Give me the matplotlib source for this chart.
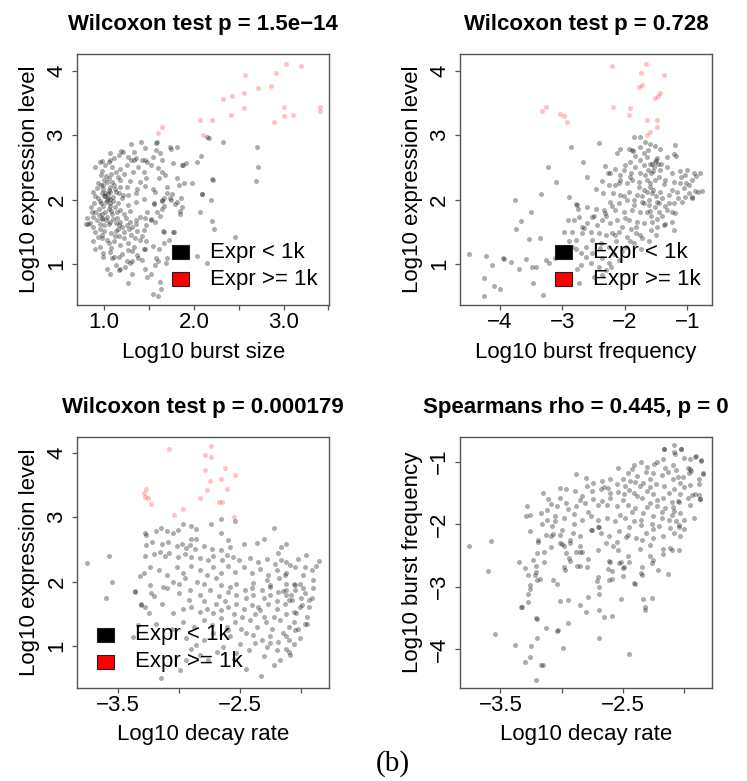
import numpy as np
import matplotlib
matplotlib.use('Agg')
import matplotlib.pyplot as plt
from matplotlib.patches import Rectangle

plt.rcParams['font.family'] = ['Liberation Sans', 'DejaVu Sans']

# log10 burst size vs log10 expression, genes with expression < 1k
size_expr_low = [
    (1.59, 2.90), (1.58, 2.88), (1.41, 2.89), (1.30, 2.86), (1.73, 2.82), (1.74, 2.78), (1.81, 2.81), (2.15, 2.97), (2.17, 2.96), (2.33, 2.89),
    (2.70, 2.82), (1.46, 2.80), (1.58, 2.77), (1.19, 2.76), (1.21, 2.74), (1.33, 2.74), (1.06, 2.72), (1.62, 2.73),
    (1.54, 2.66), (1.46, 2.61), (1.36, 2.65), (1.26, 2.66), (1.11, 2.64), (1.07, 2.62), (1.05, 2.59), (0.95, 2.58), (0.97, 2.60), (1.16, 2.69),
    (1.30, 2.62), (1.33, 2.61), (1.42, 2.62), (1.48, 2.58), (1.64, 2.62), (1.77, 2.57), (1.87, 2.54), (1.88, 2.53), (1.91, 2.57), (2.08, 2.68),
    (2.04, 2.59), (2.71, 2.51), (1.60, 2.49), (1.52, 2.54), (1.38, 2.50), (1.25, 2.54), (1.18, 2.48), (1.09, 2.50), (1.01, 2.53), (0.90, 2.50),
    (1.65, 2.43), (1.68, 2.38), (1.81, 2.34), (1.61, 2.33), (1.13, 2.43), (1.22, 2.39), (1.32, 2.43), (1.44, 2.43), (1.47, 2.34), (1.40, 2.28),
    (1.29, 2.29), (1.18, 2.30), (1.05, 2.33), (0.96, 2.38), (0.93, 2.25), (0.99, 2.23), (1.11, 2.23), (1.25, 2.20), (1.37, 2.17), (1.46, 2.21),
    (1.54, 2.17), (1.70, 2.20), (1.83, 2.22), (1.89, 2.26), (1.98, 2.26), (2.20, 2.32), (2.21, 2.30), (2.69, 2.29), (1.02, 2.36), (1.08, 2.40),
    (0.98, 2.44), (1.15, 2.35), (1.03, 2.27), (1.07, 2.20),
    (1.57, 2.12), (1.70, 2.10), (2.09, 2.08), (0.88, 2.12), (0.90, 2.05), (0.98, 2.10), (1.07, 2.12), (1.16, 2.10), (1.27, 2.07), (1.36, 2.10),
    (1.44, 2.01), (1.56, 1.93), (1.56, 1.94), (1.64, 1.98), (1.73, 2.02), (1.81, 1.96), (1.67, 1.90), (1.02, 1.97), (1.07, 2.01), (1.15, 1.94),
    (1.26, 1.92), (1.35, 1.96), (1.76, 2.08), (1.74, 1.99), (1.79, 1.93), (1.67, 2.02), (1.64, 1.99), (2.19, 1.99), (2.09, 2.09), (1.86, 2.03),
    (1.87, 1.89), (1.00, 2.05), (1.04, 2.08), (1.10, 2.04), (0.95, 1.98), (1.05, 2.15), (1.12, 2.16), (0.92, 2.18), (1.20, 2.02), (1.03, 2.00),
    (1.06, 1.95), (1.01, 2.11),
    (0.85, 1.89), (0.94, 1.86), (1.05, 1.85), (1.18, 1.84), (1.29, 1.82), (1.48, 1.81), (1.59, 1.81), (1.85, 1.83), (1.85, 1.77), (2.07, 1.80),
    (1.65, 1.85), (1.62, 1.75), (0.84, 1.63), (0.81, 1.71), (0.87, 1.73), (0.92, 1.68), (0.98, 1.71), (1.03, 1.73), (1.07, 1.66), (1.13, 1.63),
    (1.18, 1.66), (1.24, 1.71), (1.29, 1.66), (1.35, 1.68), (1.40, 1.73), (1.46, 1.71), (1.52, 1.68), (1.57, 1.66), (1.52, 1.70), (2.20, 1.67),
    (0.97, 1.78), (1.01, 1.80), (1.09, 1.77), (1.14, 1.80), (0.90, 1.80), (1.22, 1.77), (0.95, 1.62), (1.00, 1.60), (1.10, 1.70), (1.05, 1.62),
    (1.44, 1.53), (1.47, 1.60), (1.67, 1.50), (1.78, 1.50), (1.72, 1.37), (0.88, 1.35), (0.97, 1.40), (1.05, 1.32), (1.11, 1.35), (1.18, 1.29),
    (1.26, 1.32), (1.33, 1.27), (1.44, 1.24), (1.54, 1.28), (1.61, 1.24), (2.22, 1.54), (1.66, 1.52), (1.67, 1.33), (1.77, 1.49), (0.90, 1.50),
    (0.95, 1.55), (1.00, 1.52), (1.08, 1.48), (1.15, 1.55), (1.22, 1.50), (1.30, 1.45), (1.37, 1.52), (0.98, 1.45), (1.12, 1.44), (2.46, 1.42),
    (0.90, 1.24), (0.99, 1.17), (1.06, 1.19), (1.11, 1.11), (1.20, 1.16), (0.99, 1.11), (1.09, 1.10), (1.16, 1.11), (1.25, 1.04), (1.31, 1.04),
    (1.38, 1.09), (1.42, 1.06), (1.45, 1.24), (1.57, 0.98), (1.60, 1.05), (1.58, 1.10), (1.70, 1.10), (1.69, 1.01), (2.15, 1.01), (2.04, 1.13),
    (1.03, 0.93), (1.13, 0.98), (1.18, 0.93), (1.29, 1.01),
    (1.07, 0.84), (1.17, 0.90), (1.23, 0.96), (1.27, 0.71), (1.31, 0.85), (1.46, 0.93), (1.48, 0.80), (1.52, 0.84), (1.62, 0.72), (1.63, 0.62),
    (1.60, 0.50), (1.54, 0.53),
    (0.93, 2.02), (0.96, 1.95), (0.99, 1.90), (1.01, 2.06), (1.04, 2.02), (1.06, 1.90), (1.08, 1.83), (0.94, 1.76), (0.97, 1.70), (1.02, 1.68),
    (1.12, 1.88), (1.14, 1.72), (0.99, 2.16), (1.09, 2.28), (0.89, 1.95), (0.86, 1.80), (0.82, 1.62), (0.80, 1.62), (1.16, 1.60), (1.20, 1.57),
    (1.25, 1.60), (1.31, 1.58), (1.28, 1.54), (1.36, 1.62), (1.34, 1.40), (1.40, 1.38), (1.22, 1.40), (1.17, 1.44), (0.93, 1.42), (1.03, 1.38),
    (1.08, 1.25), (0.95, 1.27), (1.26, 1.22), (1.31, 1.20), (1.37, 1.14), (1.00, 2.30), (0.96, 2.22), (1.13, 2.12), (1.18, 2.20), (1.21, 2.07),
    (1.10, 1.98), (0.88, 1.57), (1.13, 1.52), (1.42, 1.44), (1.47, 1.35),
]
# genes with expression >= 1k
size_expr_high = [
    (1.64, 3.13), (1.60, 3.04), (2.07, 3.23), (2.20, 3.23), (2.10, 3.01), (2.32, 3.56), (2.42, 3.60), (2.41, 3.31), (2.57, 3.93), (2.56, 3.65),
    (2.56, 3.42), (2.72, 3.73), (2.86, 3.77), (2.92, 3.97), (3.03, 4.11), (3.19, 4.07), (3.01, 3.44), (3.01, 3.30), (3.10, 3.32), (2.89, 3.20),
    (3.41, 3.44), (3.41, 3.37),
]

# log10 burst frequency vs log10 expression
freq_expr_low = [
    (-4.49, 1.15), (-4.22, 1.13), (-4.26, 0.78), (-4.25, 0.50), (-4.12, 0.98), (-4.09, 0.66), (-4.00, 0.62), (-3.95, 1.10), (-3.94, 1.08), (-3.83, 1.03),
    (-3.70, 0.92), (-3.58, 1.08), (-3.48, 0.96), (-3.42, 0.96), (-3.47, 0.71), (-3.31, 0.52), (-3.76, 1.99), (-3.74, 1.54), (-3.67, 1.67), (-3.50, 1.81),
    (-3.35, 2.09), (-3.53, 1.39), (-3.36, 1.41), (-3.27, 1.07), (-3.23, 2.51), (-3.11, 2.28), (-2.86, 2.82), (-2.67, 2.59), (-2.61, 2.35), (-2.42, 2.88),
    (-2.89, 2.04), (-2.79, 1.93), (-2.77, 1.92), (-2.75, 1.85), (-2.60, 1.88), (-2.97, 1.50), (-2.85, 1.50), (-2.91, 1.68), (-2.82, 1.68), (-2.73, 1.73),
    (-2.65, 1.56), (-2.68, 1.58), (-3.08, 1.22), (-2.98, 1.17), (-2.89, 1.35), (-2.79, 1.24), (-2.71, 0.98), (-2.76, 0.92), (-2.73, 0.71), (-3.21, 1.01),
    (-3.12, 1.09),
    (-1.85, 2.97), (-1.76, 2.97), (-1.67, 2.90), (-1.60, 2.86), (-1.94, 2.78), (-1.89, 2.77), (-1.87, 2.76), (-2.07, 2.78), (-2.12, 2.72), (-1.76, 2.82),
    (-1.63, 2.77), (-1.51, 2.83), (-1.43, 2.79), (-1.19, 2.84), (-1.21, 2.71), (-1.32, 2.66), (-1.18, 2.68), (-1.48, 2.65), (-1.51, 2.59), (-1.56, 2.56),
    (-1.47, 2.55), (-1.53, 2.51), (-1.70, 2.72), (-1.65, 2.66), (-1.75, 2.61), (-1.84, 2.68), (-1.91, 2.59), (-1.99, 2.54), (-1.83, 2.51), (-1.70, 2.54),
    (-1.63, 2.46), (-2.31, 2.52), (-2.16, 2.48), (-2.01, 2.46), (-2.27, 2.41), (-2.23, 2.41), (-2.07, 2.38), (-1.90, 2.42), (-1.75, 2.41), (-1.58, 2.41),
    (-1.43, 2.46), (-1.32, 2.51), (-1.24, 2.41), (-1.12, 2.45), (-1.01, 2.46), (-1.04, 2.38), (-0.92, 2.30), (-0.80, 2.42), (-0.86, 2.36), (-2.36, 2.29),
    (-2.46, 2.16), (-2.35, 2.11), (-2.26, 2.23), (-2.15, 2.23), (-2.07, 2.30), (-1.96, 2.25), (-1.88, 2.30), (-1.78, 2.28), (-1.65, 2.30), (-1.60, 2.26),
    (-1.51, 2.31), (-1.37, 2.24), (-1.21, 2.28), (-1.11, 2.25), (-0.97, 2.23), (-0.87, 2.14), (-0.76, 2.14), (-2.19, 2.11), (-2.07, 2.07), (-1.94, 2.12),
    (-1.80, 2.07), (-1.70, 2.15), (-1.56, 2.10), (-1.43, 2.12), (-1.29, 2.07), (-1.16, 2.12), (-1.03, 2.04), (-0.92, 2.02), (-2.23, 1.97), (-2.10, 1.94),
    (-1.96, 1.99), (-1.86, 1.91), (-1.72, 1.97), (-1.62, 1.91), (-1.48, 1.97), (-1.35, 1.90), (-1.21, 1.94), (-1.08, 1.97), (-2.47, 1.85), (-2.34, 1.84),
    (-2.15, 1.84), (-2.02, 1.81), (-1.88, 1.84), (-1.75, 1.80), (-1.59, 1.83), (-1.45, 1.81), (-1.32, 1.84), (-1.19, 1.79),
    (-0.89, 2.41), (-0.83, 2.12), (-0.93, 2.04), (-1.02, 2.26),
    (-2.50, 1.74), (-2.36, 1.69), (-2.32, 1.79), (-2.24, 1.63), (-2.12, 1.68), (-2.04, 1.58), (-1.93, 1.68), (-1.82, 1.58), (-1.69, 1.63), (-1.58, 1.53),
    (-1.48, 1.58), (-1.37, 1.60), (-1.24, 1.66), (-1.21, 1.53), (-2.41, 1.48), (-2.30, 1.45), (-2.20, 1.48), (-2.09, 1.50), (-1.96, 1.42), (-1.82, 1.48),
    (-1.72, 1.40), (-1.61, 1.35), (-1.50, 1.45), (-2.52, 1.37), (-2.38, 1.32), (-2.25, 1.27), (-2.14, 1.35), (-1.98, 1.27), (-1.85, 1.32), (-1.74, 1.24),
    (-2.63, 1.27), (-2.52, 1.17), (-2.36, 1.09), (-2.25, 1.01), (-2.30, 0.91), (-2.09, 1.06), (-2.22, 0.96), (-2.41, 0.96), (-2.55, 1.01), (-2.63, 1.11),
    (-2.71, 1.17), (-2.49, 0.80), (-2.37, 0.83), (-2.52, 1.73), (-2.60, 1.64), (-2.68, 1.48), (-2.79, 1.37), (-2.84, 1.27),
    (-1.60, 2.20), (-1.55, 2.15), (-1.50, 2.05), (-1.45, 1.95), (-1.62, 2.00), (-1.70, 1.95), (-1.52, 1.88), (-1.40, 2.02), (-1.58, 1.75), (-1.65, 1.80),
    (-1.48, 1.70), (-1.55, 2.45), (-1.60, 2.55), (-1.45, 2.35), (-1.68, 2.38), (-1.78, 2.20), (-1.85, 2.00), (-1.35, 2.30), (-1.30, 1.95), (-1.25, 2.15),
    (-1.42, 2.55), (-1.50, 2.62), (-1.65, 2.12), (-1.72, 2.05), (-1.92, 2.35), (-2.02, 2.05), (-2.10, 2.25), (-2.20, 1.90), (-2.30, 1.75), (-2.00, 1.72),
    (-1.80, 1.65), (-1.57, 1.65), (-1.40, 1.75), (-1.15, 2.02), (-1.05, 2.18), (-1.10, 2.35), (-0.98, 2.10), (-1.35, 1.62), (-1.25, 1.80), (-1.75, 1.45),
    (-1.90, 1.55), (-2.15, 1.45), (-2.45, 1.60), (-2.55, 1.50), (-2.40, 1.25), (-2.18, 1.15), (-2.05, 1.20), (-1.92, 1.35),
]
freq_expr_high = [
    (-2.21, 4.07), (-1.66, 4.11), (-1.74, 3.97), (-1.72, 3.78), (-1.78, 3.74), (-1.37, 3.93), (-1.44, 3.66), (-1.47, 3.61), (-1.51, 3.57), (-2.19, 3.44),
    (-1.91, 3.42), (-1.94, 3.31), (-3.32, 3.37), (-3.26, 3.44), (-3.04, 3.33), (-2.97, 3.30), (-2.93, 3.20), (-1.65, 3.24), (-1.48, 3.23), (-1.48, 3.12),
    (-1.60, 3.05), (-1.65, 3.01),
]

# log10 decay rate vs log10 expression
decay_expr_low = [
    (-3.76, 2.29), (-3.58, 2.40), (-3.55, 1.99), (-3.60, 1.75), (-3.36, 1.85), (-3.29, 2.13), (-3.31, 1.65), (-3.28, 1.61), (-3.34, 1.33), (-3.38, 1.14),
    (-3.15, 0.50), (-2.99, 0.63), (-2.33, 0.53), (-2.22, 0.70), (-2.10, 0.91), (-2.45, 0.65),
    (-2.54, 2.94), (-2.74, 2.90), (-2.66, 2.97), (-2.97, 2.89), (-2.90, 2.87), (-3.28, 2.75), (-3.27, 2.73), (-3.19, 2.78), (-3.15, 2.84), (-3.10, 2.78),
    (-3.05, 2.76), (-3.01, 2.80), (-2.86, 2.82), (-2.86, 2.66), (-2.90, 2.66), (-2.22, 2.84), (-2.66, 2.76), (-3.22, 2.61), (-3.27, 2.57), (-3.14, 2.58),
    (-3.09, 2.62), (-3.02, 2.55), (-2.98, 2.59), (-2.94, 2.52), (-2.91, 2.57), (-2.87, 2.50), (-2.80, 2.55), (-2.73, 2.51), (-2.66, 2.49), (-2.60, 2.65),
    (-2.58, 2.54), (-2.47, 2.58), (-2.36, 2.60), (-2.30, 2.66), (-2.16, 2.53), (-3.28, 2.40), (-3.21, 2.43), (-3.16, 2.46), (-3.12, 2.40), (-3.08, 2.45),
    (-3.01, 2.38), (-2.95, 2.43), (-2.90, 2.39), (-2.83, 2.36), (-2.76, 2.33), (-2.72, 2.40), (-2.65, 2.34), (-2.61, 2.41), (-2.56, 2.38), (-2.51, 2.33),
    (-2.42, 2.36), (-2.35, 2.31), (-2.28, 2.35), (-2.21, 2.28), (-2.12, 2.31), (-2.02, 2.35), (-1.97, 2.22), (-1.85, 2.32), (-3.32, 2.09), (-3.24, 2.23),
    (-3.17, 2.18), (-3.10, 2.10), (-3.02, 2.22), (-2.97, 2.13), (-2.90, 2.24), (-2.83, 2.18), (-2.77, 2.10), (-2.72, 2.22), (-2.66, 2.13), (-2.60, 2.24),
    (-2.54, 2.15), (-2.47, 2.23), (-2.40, 2.13), (-2.34, 2.20), (-2.27, 2.10), (-2.20, 2.18), (-2.12, 2.13), (-2.05, 2.22), (-1.98, 2.10), (-1.91, 2.18),
    (-1.88, 2.24), (-2.12, 2.58), (-1.96, 2.41), (-2.19, 2.44), (-2.16, 2.33), (-2.09, 2.26), (-2.13, 2.10),
    (-3.36, 1.84), (-3.23, 1.82), (-3.21, 1.77), (-3.31, 1.64), (-3.14, 1.66), (-3.05, 1.51), (-2.97, 1.57), (-2.90, 1.61), (-2.83, 1.53), (-2.77, 1.58),
    (-2.72, 1.51), (-2.66, 1.56), (-2.60, 1.61), (-2.53, 1.66), (-2.47, 1.58), (-2.40, 1.64), (-2.34, 1.56), (-2.27, 1.65), (-2.20, 1.58), (-2.13, 1.66),
    (-2.06, 1.53), (-1.99, 1.64), (-1.93, 1.71), (-3.00, 1.82), (-2.91, 1.87), (-2.83, 1.79), (-2.75, 1.87), (-2.67, 1.77), (-2.60, 1.84), (-2.53, 1.79),
    (-2.46, 1.87), (-2.39, 1.79), (-2.32, 1.87), (-2.25, 1.79), (-2.19, 1.84), (-2.12, 1.79), (-2.05, 1.87), (-1.97, 1.82), (-1.90, 1.90), (-2.80, 1.97),
    (-2.66, 1.95), (-2.53, 1.97), (-2.39, 1.98), (-2.25, 1.95), (-2.12, 1.97), (-2.01, 1.96), (-3.00, 1.97), (-3.13, 1.92), (-3.24, 1.95), (-3.25, 1.51),
    (-3.19, 1.35), (-3.06, 1.27), (-2.97, 1.38), (-2.88, 1.30), (-2.80, 1.40), (-2.73, 1.33), (-2.66, 1.43), (-2.61, 1.30), (-2.54, 1.38), (-2.49, 1.27),
    (-2.42, 1.40), (-2.36, 1.30), (-2.29, 1.38), (-2.24, 1.27), (-2.17, 1.40), (-2.10, 1.30), (-2.06, 1.38), (-1.97, 1.35), (-2.39, 1.17), (-2.32, 1.09),
    (-2.25, 1.15), (-2.19, 1.07), (-2.12, 1.15), (-2.06, 1.04), (-2.01, 1.12), (-2.28, 0.99), (-2.20, 0.94), (-2.12, 0.96), (-2.09, 0.86), (-2.17, 0.78),
    (-2.58, 1.15), (-2.50, 1.04), (-2.43, 0.94), (-2.53, 0.89), (-2.64, 0.99), (-2.69, 0.91), (-2.76, 0.78), (-2.94, 1.12), (-2.86, 1.02), (-2.83, 0.86),
    (-2.94, 0.78),
    (-1.90, 2.03), (-1.91, 1.74), (-1.95, 1.34), (-2.02, 1.27), (-2.04, 1.51), (-2.01, 1.61), (-2.07, 1.71), (-2.12, 1.87), (-2.06, 1.97),
    (-2.30, 1.75), (-2.25, 1.92), (-2.20, 1.70), (-2.15, 1.85), (-2.10, 1.72), (-2.35, 1.60), (-2.40, 1.90), (-2.45, 1.75), (-2.28, 2.02), (-2.18, 2.05),
    (-2.05, 1.95), (-2.08, 1.80), (-2.00, 1.75), (-2.22, 1.45), (-2.30, 1.45), (-2.12, 1.50), (-2.38, 1.50), (-2.48, 1.45), (-2.55, 1.50), (-2.62, 1.70),
    (-2.70, 1.65), (-2.58, 1.92), (-2.70, 2.05), (-2.85, 2.00), (-2.95, 2.05), (-3.05, 2.00), (-3.10, 1.90), (-2.92, 1.72), (-2.80, 1.70), (-2.05, 1.25),
    (-2.15, 1.20), (-2.25, 1.05), (-2.38, 1.05), (-2.45, 1.20), (-2.60, 1.25), (-2.72, 1.20), (-2.80, 1.10), (-2.90, 0.95), (-2.55, 0.80), (-2.30, 0.85),
    (-2.10, 1.10), (-1.95, 1.45), (-1.93, 1.60), (-1.98, 1.90),
]
decay_expr_high = [
    (-3.08, 4.06), (-2.74, 4.11), (-2.79, 3.96), (-2.74, 3.93), (-2.62, 3.77), (-2.54, 3.65), (-2.79, 3.73), (-2.75, 3.56), (-2.66, 3.60), (-2.77, 3.42),
    (-2.61, 3.44), (-2.83, 3.30), (-2.67, 3.23), (-2.65, 3.23), (-3.27, 3.43), (-3.29, 3.38), (-3.28, 3.31), (-3.26, 3.30), (-3.23, 3.20), (-2.97, 3.12),
    (-3.04, 3.04), (-2.55, 3.01),
]

# log10 decay rate vs log10 burst frequency, all genes
decay_freq = [
    (-3.76, -2.35), (-3.58, -2.27), (-3.60, -2.75), (-3.54, -3.75), (-3.38, -3.94), (-3.30, -4.21), (-3.26, -4.12), (-3.25, -3.95), (-3.21, -4.49), (-3.17, -4.25),
    (-3.15, -4.25), (-3.20, -3.82), (-3.21, -3.50), (-3.20, -3.52), (-3.13, -3.66), (-3.04, -3.71), (-3.03, -3.69), (-2.99, -3.98), (-2.95, -3.58), (-3.33, -3.33),
    (-3.32, -3.33), (-3.27, -3.24), (-3.27, -3.11), (-3.26, -3.04), (-3.30, -2.70), (-3.35, -2.60), (-3.22, -2.82), (-3.20, -2.90), (-3.18, -2.87), (-3.14, -2.45),
    (-3.19, -2.28), (-3.21, -2.67), (-3.07, -2.90), (-3.01, -3.23), (-2.95, -3.22), (-2.85, -3.29), (-2.80, -3.40), (-2.78, -3.17), (-2.69, -3.01), (-2.69, -3.11),
    (-2.69, -3.38), (-2.69, -3.82), (-2.65, -3.49), (-2.59, -3.47), (-2.51, -3.19), (-2.45, -4.07), (-2.40, -2.95), (-2.33, -3.20), (-2.32, -3.32), (-2.32, -3.37),
    (-2.26, -3.18), (-2.21, -2.74), (-2.13, -2.79), (-2.85, -2.67), (-2.79, -2.68), (-2.71, -2.91), (-2.62, -2.71), (-2.60, -2.60), (-2.53, -2.62), (-2.51, -2.60),
    (-2.59, -2.87), (-2.97, -2.74), (-2.98, -2.68), (-2.88, -2.45), (-2.85, -2.45), (-2.83, -2.45), (-2.78, -2.56), (-2.93, -2.26), (-3.00, -2.31), (-2.98, -2.35),
    (-3.01, -2.18), (-3.13, -2.18), (-3.07, -2.16), (-3.09, -2.36), (-2.75, -2.09), (-2.69, -2.04), (-2.64, -2.30), (-2.58, -2.35), (-2.54, -2.42), (-2.47, -2.20),
    (-2.49, -2.68), (-2.45, -2.60), (-2.36, -2.39), (-2.34, -2.26), (-2.28, -2.34), (-2.25, -2.58), (-2.17, -2.47), (-2.10, -2.42), (-2.04, -2.42),
    (-3.21, -2.77), (-3.27, -2.81), (-3.26, -2.97), (-3.23, -2.58), (-3.20, -2.46), (-3.14, -2.61), (-3.04, -2.95), (-2.70, -2.85), (-2.61, -2.90), (-2.50, -2.83),
    (-2.59, -2.75), (-2.50, -2.70), (-2.46, -2.51), (-2.41, -2.94), (-2.35, -2.78), (-2.34, -2.82), (-2.34, -2.69), (-2.28, -2.51), (-2.26, -2.62), (-2.17, -2.40),
    (-2.11, -2.38), (-2.70, -2.41), (-2.94, -2.54), (-2.96, -2.46), (-2.87, -2.67), (-2.93, -2.59), (-2.61, -2.59),
    (-2.16, -0.80), (-2.02, -0.79), (-2.07, -0.88), (-1.90, -0.91), (-1.86, -0.99), (-1.95, -0.96), (-2.00, -0.94), (-2.24, -1.04), (-2.22, -1.01), (-2.17, -0.95),
    (-2.09, -1.06), (-2.13, -1.17), (-2.06, -1.13), (-1.97, -1.10), (-1.94, -1.15), (-1.84, -1.18), (-1.88, -1.28), (-1.91, -1.52), (-1.87, -1.60), (-1.95, -1.38),
    (-2.03, -1.34), (-2.09, -1.27), (-2.18, -1.22), (-2.25, -1.18), (-2.28, -1.27), (-2.31, -1.16), (-2.35, -1.01), (-2.41, -1.06), (-2.42, -1.12), (-2.46, -1.18),
    (-2.54, -1.10), (-2.38, -1.23), (-2.33, -1.34), (-2.23, -1.36), (-2.16, -1.39), (-2.08, -1.44), (-2.03, -1.52), (-1.97, -1.58), (-2.05, -1.63), (-2.10, -1.65),
    (-2.17, -1.58), (-2.25, -1.52), (-2.30, -1.47), (-2.36, -1.39), (-2.44, -1.31), (-2.48, -1.39), (-2.55, -1.36), (-2.60, -1.28), (-2.67, -1.31), (-2.74, -1.34),
    (-2.80, -1.26), (-2.88, -1.20), (-2.79, -1.39), (-2.75, -1.47), (-2.68, -1.44), (-2.62, -1.42), (-2.54, -1.49), (-2.49, -1.52), (-2.41, -1.50), (-2.34, -1.58),
    (-2.28, -1.66), (-2.22, -1.71), (-2.15, -1.74), (-2.08, -1.79), (-2.03, -1.82), (-3.01, -1.42), (-2.96, -1.44), (-2.89, -1.47), (-2.83, -1.55), (-3.01, -1.58),
    (-3.11, -1.60), (-3.15, -1.50), (-3.09, -1.68), (-3.04, -1.71), (-2.96, -1.66), (-2.88, -1.71), (-2.81, -1.66), (-2.74, -1.60), (-2.67, -1.63), (-2.60, -1.58),
    (-2.63, -1.69), (-2.55, -1.71), (-2.46, -1.69), (-2.40, -1.74), (-2.33, -1.82), (-2.25, -1.87), (-2.18, -1.90), (-2.12, -1.93), (-2.06, -1.95), (-3.28, -1.71),
    (-3.29, -1.87), (-3.26, -1.86), (-3.17, -1.82), (-3.12, -1.93), (-3.05, -1.87), (-2.98, -1.90), (-2.90, -1.84), (-2.83, -1.93), (-2.76, -1.87), (-2.70, -1.93),
    (-2.63, -1.90), (-2.56, -1.95), (-2.48, -1.90), (-2.41, -1.95), (-2.35, -2.01), (-2.26, -1.99), (-2.20, -2.03), (-2.11, -2.06), (-2.04, -2.01), (-3.26, -2.11),
    (-3.16, -1.99), (-3.08, -2.03), (-3.00, -2.09), (-2.91, -2.14), (-2.85, -2.19), (-2.76, -2.09), (-2.68, -2.14), (-2.61, -2.19), (-2.53, -2.11), (-2.46, -2.17),
    (-2.39, -2.22), (-2.31, -2.14), (-2.25, -2.22), (-2.17, -2.19), (-2.08, -2.14), (-2.03, -2.19), (-3.19, -2.25), (-3.09, -2.19), (-3.01, -2.30), (-2.93, -2.30),
    (-1.96, -1.18),
    (-2.01, -1.24), (-1.93, -1.53), (-1.88, -1.53), (-2.04, -1.64), (-2.09, -1.72), (-2.00, -1.94), (-2.04, -2.04), (-1.91, -0.93), (-1.86, -0.97), (-1.84, -1.19),
    (-1.95, -1.11), (-1.87, -1.59), (-2.16, -0.79), (-2.08, -0.73), (-2.02, -0.79), (-2.08, -0.84),
    (-2.50, -1.62), (-2.42, -1.80), (-2.38, -1.55), (-2.30, -1.72), (-2.22, -1.62), (-2.18, -1.80), (-2.45, -1.45), (-2.60, -1.50), (-2.70, -1.70), (-2.78, -1.80),
    (-2.85, -1.62), (-2.95, -1.75), (-3.05, -1.95), (-3.12, -1.78), (-2.40, -1.32), (-2.28, -1.40), (-2.12, -1.50), (-2.00, -1.40), (-1.95, -1.70), (-2.05, -1.25),
    (-2.15, -1.10), (-2.30, -1.08), (-2.50, -1.28), (-2.65, -1.40), (-2.52, -1.85), (-2.35, -1.93), (-2.25, -2.08), (-2.10, -1.85), (-2.00, -2.08), (-1.92, -1.90),
    (-2.70, -2.05), (-2.90, -2.00), (-2.55, -2.28), (-2.85, -2.35), (-2.45, -2.05), (-1.88, -1.35),
]

M = '\u2212'
panels = [
    dict(rect=[0.1035, 0.6091, 0.3373, 0.3218], low=size_expr_low, high=size_expr_high,
         title='Wilcoxon test p = 1.5e' + M + '14', xlabel='Log10 burst size', ylabel='Log10 expression level',
         xlim=(0.70, 3.51), ylim=(0.36, 4.26),
         xticks=[1.0, 1.5, 2.0, 2.5, 3.0, 3.5], xticklabels=['1.0', '', '2.0', '', '3.0', ''],
         yticks=[1, 2, 3, 4], yticklabels=['1', '2', '3', '4'], key_x=0.376),
    dict(rect=[0.6158, 0.6091, 0.3373, 0.3218], low=freq_expr_low, high=freq_expr_high,
         title='Wilcoxon test p = 0.728', xlabel='Log10 burst frequency', ylabel='Log10 expression level',
         xlim=(-4.64, -0.605), ylim=(0.36, 4.26),
         xticks=[-4, -3, -2, -1], xticklabels=[M + '4', M + '3', M + '2', M + '1'],
         yticks=[1, 2, 3, 4], yticklabels=['1', '2', '3', '4'], key_x=0.377),
    dict(rect=[0.1035, 0.1191, 0.3373, 0.3218], low=decay_expr_low, high=decay_expr_high,
         title='Wilcoxon test p = 0.000179', xlabel='Log10 decay rate', ylabel='Log10 expression level',
         xlim=(-3.837, -1.767), ylim=(0.35, 4.25),
         xticks=[-3.5, -3.0, -2.5, -2.0], xticklabels=[M + '3.5', '', M + '2.5', ''],
         yticks=[1, 2, 3, 4], yticklabels=['1', '2', '3', '4'], key_x=0.078),
    dict(rect=[0.6158, 0.1191, 0.3373, 0.3218], low=decay_freq, high=None,
         title='Spearmans rho = 0.445, p = 0', xlabel='Log10 decay rate', ylabel='Log10 burst frequency',
         xlim=(-3.83, -1.77), ylim=(-4.62, -0.60),
         xticks=[-3.5, -3.0, -2.5, -2.0], xticklabels=[M + '3.5', '', M + '2.5', ''],
         yticks=[-4, -3, -2, -1], yticklabels=[M + '4', M + '3', M + '2', M + '1'], key_x=None),
]

FS = 16
EDGE = '#555555'

fig = plt.figure(figsize=(7.47, 7.81), dpi=100)

for p in panels:
    ax = fig.add_axes(p['rect'])
    low = np.array(p['low'])
    ax.scatter(low[:, 0], low[:, 1], s=13, color='black', alpha=0.32, linewidths=0)
    if p['high'] is not None:
        high = np.array(p['high'])
        ax.scatter(high[:, 0], high[:, 1], s=13, color='red', alpha=0.24, linewidths=0)

    ax.set_xlim(*p['xlim'])
    ax.set_ylim(*p['ylim'])
    ax.set_xticks(p['xticks'])
    ax.set_xticklabels(p['xticklabels'])
    ax.set_yticks(p['yticks'])
    ax.set_yticklabels(p['yticklabels'], rotation=90, va='center')
    ax.tick_params(axis='both', direction='out', length=3.6, width=0.9, color=EDGE, labelsize=FS)
    ax.tick_params(axis='x', pad=1.5)
    ax.tick_params(axis='y', pad=3.5)
    for s in ax.spines.values():
        s.set_color(EDGE)
        s.set_linewidth(1.0)

    ax.set_xlabel(p['xlabel'], fontsize=FS, labelpad=6)
    ax.set_ylabel(p['ylabel'], fontsize=FS, labelpad=4.5)
    tx = 0.46 if p['key_x'] is None else 0.5
    ax.set_title(p['title'], fontsize=FS, fontweight='bold', pad=17, x=tx)

    # legend key boxes
    if p['key_x'] is not None:
        kx = p['key_x']
        for top, fc, lab in [(0.240, 'black', 'Expr < 1k'), (0.1325, 'red', 'Expr >= 1k')]:
            ax.add_patch(Rectangle((kx, top - 0.056), 0.067, 0.056, transform=ax.transAxes,
                                   facecolor=fc, edgecolor='#222222', linewidth=0.8, zorder=3))
            ax.text(kx + 0.15, top - 0.028, lab, transform=ax.transAxes, fontsize=FS,
                    va='center', ha='left', zorder=3)

fig.text(393 / 747, 1 - 764 / 781, '(b)', fontsize=21, family='Liberation Serif', ha='center', va='center')

fig.savefig('out.png', dpi=100)
